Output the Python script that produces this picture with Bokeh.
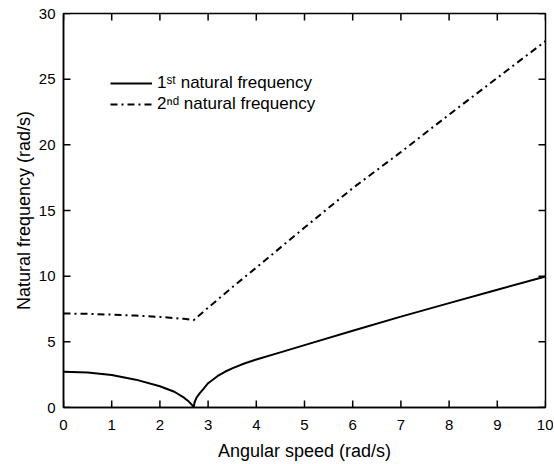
import math
from bokeh.plotting import figure
from bokeh.models import Range1d, FixedTicker, Legend, LegendItem
from bokeh.embed import file_html
from bokeh.resources import INLINE

# 1st natural frequency (rad/s) vs angular speed (rad/s)
speed_1 = [0.0, 0.5, 1.0, 1.5, 2.0, 2.3, 2.5, 2.6, 2.67, 2.7,
           2.72, 2.76, 2.82, 2.9, 3.0, 3.2, 3.35, 3.5, 3.75, 4.0,
           4.5, 5.0, 6.0, 7.0, 8.0, 9.0, 10.0]
freq_1 = [2.72, 2.66, 2.47, 2.12, 1.62, 1.2, 0.75, 0.45, 0.18, 0.0,
          0.4, 0.75, 1.05, 1.4, 1.85, 2.4, 2.72, 2.98, 3.35, 3.65,
          4.2, 4.75, 5.85, 6.92, 7.95, 8.97, 9.97]

# 2nd natural frequency (rad/s) vs angular speed (rad/s)
speed_2 = [0.0, 0.5, 1.0, 1.5, 2.0, 2.5, 2.7, 3.0, 3.5, 4.0,
           5.0, 6.0, 7.0, 8.0, 9.0, 10.0]
freq_2 = [7.16, 7.13, 7.07, 7.0, 6.9, 6.75, 6.65, 7.6, 9.15, 10.65,
          13.7, 16.7, 19.45, 22.3, 25.1, 27.9]

x_ticks = [0, 1, 2, 3, 4, 5, 6, 7, 8, 9, 10]
y_ticks = [0, 5, 10, 15, 20, 25, 30]
series_labels = ["1\u02e2\u1d57 natural frequency", "2\u207f\u1d48 natural frequency"]

FONT = "Liberation Sans"
TICK_LEN = 7

p = figure(frame_width=482, frame_height=394,
           x_range=Range1d(x_ticks[0], x_ticks[-1]),
           y_range=Range1d(y_ticks[0], y_ticks[-1]),
           output_backend="svg", toolbar_location=None,
           min_border_left=63, min_border_right=8,
           min_border_top=13, min_border_bottom=57,
           background_fill_color="white", border_fill_color="white")

p.xgrid.visible = False
p.ygrid.visible = False
p.outline_line_color = "black"
p.outline_line_width = 1.5

xa = p.xaxis[0]
ya = p.yaxis[0]
for ax, ticks in ((xa, x_ticks), (ya, y_ticks)):
    ax.ticker = FixedTicker(ticks=ticks)
    ax.axis_line_color = "black"
    ax.axis_line_width = 1.5
    ax.major_tick_in = 0
    ax.major_tick_out = 0
    ax.minor_tick_in = 0
    ax.minor_tick_out = 0
    ax.minor_tick_line_color = None
    ax.major_label_text_font = FONT
    ax.major_label_text_font_size = "15px"
    ax.major_label_text_color = "black"
    ax.axis_label_text_font = FONT
    ax.axis_label_text_font_size = "18px"
    ax.axis_label_text_font_style = "normal"
    ax.axis_label_text_color = "black"

xa.major_label_standoff = 12
ya.major_label_standoff = 8
xa.axis_label = "Angular speed (rad/s)"
ya.axis_label = "Natural frequency (rad/s)"
xa.axis_label_standoff = 8
ya.axis_label_standoff = 2

# inward tick marks on all four sides
tick_style = dict(length=TICK_LEN, length_units="screen",
                  line_color="black", line_width=1.5)
p.ray(x=x_ticks, y=[y_ticks[0]] * len(x_ticks), angle=math.pi / 2, **tick_style)
p.ray(x=x_ticks, y=[y_ticks[-1]] * len(x_ticks), angle=-math.pi / 2, **tick_style)
p.ray(x=[x_ticks[0]] * len(y_ticks), y=y_ticks, angle=0, **tick_style)
p.ray(x=[x_ticks[-1]] * len(y_ticks), y=y_ticks, angle=math.pi, **tick_style)

r1 = p.line(speed_1, freq_1, line_color="black", line_width=2)
r2 = p.line(speed_2, freq_2, line_color="black", line_width=2,
            line_dash="7 4 2 4")

legend = Legend(items=[LegendItem(label=series_labels[0], renderers=[r1]),
                       LegendItem(label=series_labels[1], renderers=[r2])],
                location=(47, 293),
                border_line_color=None, background_fill_alpha=0,
                padding=0, margin=0, spacing=1,
                glyph_width=42, glyph_height=20, label_height=20,
                label_standoff=5,
                label_text_font=FONT, label_text_font_size="17px",
                label_text_color="black")
p.add_layout(legend)

open("out.html", "w").write(file_html(p, INLINE))
